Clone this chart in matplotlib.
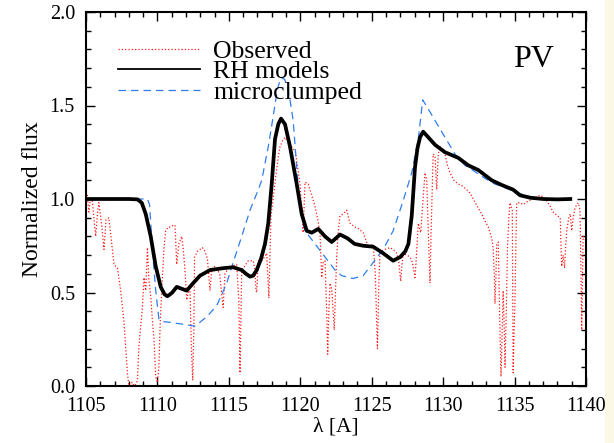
import matplotlib
matplotlib.use("Agg")
import matplotlib.pyplot as plt
from matplotlib.ticker import MultipleLocator, FormatStrFormatter
from matplotlib.patches import Rectangle

# Observed spectrum (wavelength in Angstrom, normalized flux)
obs_wave = [1105.0, 1105.09, 1105.2, 1105.3, 1105.44, 1105.55, 1105.68, 1105.8, 1105.9, 1106.0,
            1106.1, 1106.26, 1106.4, 1106.6, 1106.7, 1106.85, 1106.96, 1107.2, 1107.43, 1107.66,
            1107.9, 1108.0, 1108.12, 1108.24, 1108.36, 1108.5, 1108.6, 1108.7, 1108.95, 1109.06,
            1109.18, 1109.3, 1109.4, 1109.53, 1109.65, 1109.76, 1109.88, 1110.0, 1110.1, 1110.2,
            1110.34, 1110.46, 1110.58, 1110.75, 1110.93, 1111.1, 1111.23, 1111.35, 1111.5, 1111.7,
            1111.8, 1111.93, 1112.05, 1112.15, 1112.28, 1112.38, 1112.47, 1112.55, 1112.6, 1112.8,
            1112.98, 1113.15, 1113.33, 1113.5, 1113.68, 1113.8, 1113.95, 1114.15, 1114.35, 1114.6,
            1114.73, 1114.95, 1115.2, 1115.55, 1115.7, 1115.78, 1115.85, 1115.9, 1116.1, 1116.36,
            1116.7, 1116.83, 1116.9, 1116.95, 1117.06, 1117.3, 1117.5, 1117.65, 1117.8, 1117.88,
            1117.95, 1118.1, 1118.28, 1118.45, 1118.58, 1118.75, 1118.93, 1119.1, 1119.28, 1119.45,
            1119.63, 1119.8, 1119.98, 1120.1, 1120.2, 1120.26, 1120.33, 1120.56, 1120.8, 1121.03,
            1121.2, 1121.38, 1121.5, 1121.6, 1121.73, 1121.85, 1121.92, 1122.0, 1122.08, 1122.2,
            1122.38, 1122.46, 1122.55, 1122.65, 1122.78, 1123.0, 1123.25, 1123.48, 1123.83, 1124.1,
            1124.4, 1124.6, 1124.76, 1125.1, 1125.25, 1125.4, 1125.5, 1125.58, 1125.9, 1126.28,
            1126.5, 1126.75, 1126.9, 1127.03, 1127.12, 1127.2, 1127.45, 1127.68, 1127.85, 1128.03,
            1128.15, 1128.26, 1128.43, 1128.6, 1128.73, 1128.85, 1128.95, 1129.08, 1129.15, 1129.2,
            1129.3, 1129.43, 1129.55, 1129.66, 1129.78, 1129.95, 1130.13, 1130.3, 1130.48, 1130.75,
            1131.06, 1131.35, 1131.65, 1131.9, 1132.1, 1132.4, 1132.7, 1132.95, 1133.16, 1133.4,
            1133.5, 1133.58, 1133.63, 1133.7, 1133.75, 1133.86, 1133.95, 1134.05, 1134.12, 1134.2,
            1134.28, 1134.33, 1134.42, 1134.5, 1134.6, 1134.68, 1134.75, 1134.84, 1134.9, 1134.97,
            1135.03, 1135.1, 1135.15, 1135.38, 1135.6, 1135.8, 1135.96, 1136.3, 1136.55, 1136.78,
            1137.0, 1137.25, 1137.5, 1137.7, 1138.0, 1138.2, 1138.25, 1138.3, 1138.4, 1138.5,
            1138.58, 1138.65, 1138.8, 1138.9, 1139.0, 1139.1, 1139.23, 1139.35, 1139.46, 1139.58,
            1139.65, 1139.7, 1139.75, 1139.8, 1140.0]
obs_flux = [1.00, 1.02, 0.93, 1.00, 0.99, 0.90, 0.80, 0.92, 0.98, 0.92,
            0.86, 0.73, 0.89, 0.90, 0.83, 0.72, 0.65, 0.63, 0.51, 0.34,
            0.07, 0.00, 0.01, 0.02, 0.00, 0.01, 0.03, 0.21, 0.42, 0.58,
            0.51, 0.74, 0.57, 0.48, 0.35, 0.25, 0.05, 0.02, 0.10, 0.35,
            0.57, 0.74, 0.83, 0.85, 0.85, 0.86, 0.86, 0.65, 0.76, 0.80,
            0.74, 0.62, 0.46, 0.50, 0.51, 0.20, 0.03, 0.30, 0.69, 0.72,
            0.73, 0.74, 0.72, 0.68, 0.51, 0.62, 0.64, 0.63, 0.60, 0.42,
            0.60, 0.63, 0.64, 0.65, 0.45, 0.07, 0.40, 0.62, 0.64, 0.67,
            0.67, 0.62, 0.51, 0.50, 0.67, 0.67, 0.69, 0.71, 0.47, 0.70,
            0.91, 1.00, 1.12, 1.22, 1.28, 1.31, 1.33, 1.31, 1.30, 1.27,
            1.26, 1.18, 1.08, 0.95, 0.82, 0.95, 1.09, 1.08, 1.02, 0.96,
            0.90, 0.82, 0.58, 0.66, 0.67, 0.40, 0.17, 0.40, 0.55, 0.52,
            0.30, 0.50, 0.69, 0.82, 0.91, 0.92, 0.94, 0.87, 0.85, 0.84,
            0.82, 0.78, 0.74, 0.76, 0.60, 0.20, 0.55, 0.71, 0.73, 0.74,
            0.73, 0.71, 0.66, 0.56, 0.65, 0.71, 0.70, 0.69, 0.66, 0.58,
            0.72, 0.87, 0.82, 1.00, 1.14, 1.10, 0.85, 0.55, 0.80, 0.94,
            1.24, 1.23, 1.05, 1.24, 1.28, 1.27, 1.24, 1.18, 1.14, 1.10,
            1.08, 1.07, 1.05, 1.03, 1.00, 0.96, 0.92, 0.88, 0.85, 0.79,
            0.74, 0.60, 0.44, 0.60, 0.76, 0.77, 0.40, 0.05, 0.25, 0.51,
            0.30, 0.10, 0.40, 0.73, 0.90, 0.98, 0.96, 0.94, 0.07, 0.30,
            0.46, 0.80, 0.98, 0.98, 0.97, 0.98, 0.99, 1.00, 1.01, 1.02,
            1.01, 0.99, 0.96, 0.93, 0.91, 0.90, 0.75, 0.64, 0.70, 0.63,
            0.75, 0.83, 0.90, 0.92, 0.83, 0.90, 0.95, 0.97, 0.98, 0.94,
            0.60, 0.30, 0.55, 0.80, 0.78]

# RH model profile
rh_wave = [1105.0, 1106.0, 1107.0, 1108.0, 1108.6, 1108.9, 1109.18, 1109.53, 1109.88, 1110.23,
           1110.5, 1110.7, 1110.88, 1111.04, 1111.35, 1111.7, 1112.05, 1112.5, 1112.98, 1113.68,
           1114.6, 1115.3, 1115.9, 1116.2, 1116.48, 1116.7, 1116.95, 1117.25, 1117.53, 1117.76,
           1118.0, 1118.23, 1118.46, 1118.65, 1118.93, 1119.28, 1119.75, 1120.1, 1120.45, 1120.8,
           1121.26, 1121.73, 1122.2, 1122.78, 1123.3, 1123.8, 1124.4, 1125.1, 1125.8, 1126.5,
           1127.0, 1127.35, 1127.57, 1127.8, 1128.03, 1128.2, 1128.38, 1128.6, 1128.96, 1129.43,
           1130.13, 1131.06, 1131.76, 1132.46, 1133.4, 1134.1, 1134.9, 1135.38, 1136.08, 1137.0,
           1138.0, 1138.9]
rh_flux = [1.00, 1.00, 1.00, 1.00, 0.998, 0.98, 0.92, 0.80, 0.64, 0.53,
           0.49, 0.48, 0.49, 0.50, 0.53, 0.52, 0.51, 0.55, 0.59, 0.62,
           0.63, 0.635, 0.62, 0.60, 0.585, 0.59, 0.62, 0.68, 0.76, 0.87,
           1.08, 1.32, 1.40, 1.43, 1.40, 1.28, 1.08, 0.92, 0.83, 0.82,
           0.84, 0.80, 0.77, 0.81, 0.79, 0.76, 0.75, 0.745, 0.71, 0.67,
           0.69, 0.72, 0.76, 0.91, 1.17, 1.27, 1.33, 1.36, 1.33, 1.29,
           1.25, 1.22, 1.18, 1.155, 1.10, 1.075, 1.05, 1.02, 1.007, 1.00,
           0.998, 1.00]

# Microclumped model profile
mc_wave = [1105.0, 1106.0, 1107.0, 1108.0, 1109.0, 1109.3, 1109.45, 1109.64, 1109.88, 1110.1,
           1110.3, 1110.93, 1111.8, 1112.63, 1113.45, 1114.15, 1114.85, 1115.3, 1115.9, 1116.48,
           1117.06, 1117.3, 1117.76, 1118.1, 1118.28, 1118.45, 1118.65, 1118.9, 1119.1, 1119.28,
           1119.5, 1119.75, 1119.98, 1120.33, 1121.03, 1121.73, 1122.43, 1122.9, 1123.7, 1124.4,
           1125.1, 1125.8, 1126.5, 1127.2, 1127.8, 1128.26, 1128.57, 1128.97, 1129.43, 1130.13,
           1130.83, 1131.53, 1132.23, 1132.93, 1133.63, 1134.33, 1134.9, 1135.5, 1136.2, 1137.0,
           1138.0, 1138.9]
mc_flux = [1.00, 1.00, 1.00, 1.00, 1.00, 1.00, 0.97, 0.74, 0.51, 0.36,
           0.345, 0.34, 0.33, 0.32, 0.37, 0.43, 0.55, 0.66, 0.80, 0.94,
           1.05, 1.10, 1.28, 1.44, 1.53, 1.60, 1.65, 1.64, 1.60, 1.53,
           1.42, 1.17, 0.94, 0.83, 0.76, 0.69, 0.62, 0.59, 0.575, 0.59,
           0.66, 0.73, 0.83, 0.99, 1.14, 1.32, 1.53, 1.48, 1.42, 1.33,
           1.24, 1.18, 1.146, 1.11, 1.08, 1.06, 1.045, 1.025, 1.01, 1.00,
           0.998, 1.00]

series_labels = ["Observed", "RH models", "microclumped"]
x_ticks = [1105, 1110, 1115, 1120, 1125, 1130, 1135, 1140]
y_ticks = [0.0, 0.5, 1.0, 1.5, 2.0]

plt.rcParams["font.family"] = ["Liberation Serif", "DejaVu Serif"]

fig = plt.figure(figsize=(6.14, 4.43), dpi=100)
fig.patch.set_facecolor("white")
fig.add_artist(Rectangle((605 / 614, 0), 9 / 614, 1, transform=fig.transFigure,
                         facecolor="#fcf8e6", edgecolor="none", zorder=0))

ax = fig.add_axes([86 / 614, 57 / 443, 500 / 614, 374 / 443])

ax.plot(obs_wave, obs_flux, color="#ff1a1a", linestyle=":", linewidth=0.9,
        label=series_labels[0], zorder=2)
ax.plot(rh_wave, rh_flux, color="black", linestyle="-", linewidth=2.7,
        label=series_labels[1], zorder=4, solid_joinstyle="round")
ax.plot(mc_wave, mc_flux, color="#2f7df0", linestyle=(0, (6, 4)), linewidth=0.9,
        label=series_labels[2], zorder=3)

ax.set_xlim(1105, 1140)
ax.set_ylim(0.0, 2.0)
ax.set_xticks(x_ticks)
ax.set_yticks(y_ticks)
ax.xaxis.set_minor_locator(MultipleLocator(1))
ax.yaxis.set_minor_locator(MultipleLocator(0.1))
ax.yaxis.set_major_formatter(FormatStrFormatter("%.1f"))

ax.tick_params(which="both", direction="in", top=True, right=True, width=1.0,
               labelsize=14.5, colors="black")
ax.tick_params(which="major", length=6.5, pad=8)
ax.tick_params(which="minor", length=3.5)
for side in ax.spines.values():
    side.set_linewidth(1.5)

ax.set_xlabel("λ [A]", fontsize=15.5, labelpad=1)
ax.set_ylabel("Normalized flux", fontsize=17, labelpad=5)

ax.text(0.896, 0.873, "PV", transform=ax.transAxes, fontsize=23,
        ha="center", va="center")

leg = ax.legend(loc="upper left", bbox_to_anchor=(0.064, 0.926), frameon=False,
                fontsize=18.5, handlelength=3.2, handletextpad=0.5,
                labelspacing=-0.09, borderaxespad=0.0, borderpad=0.0)
leg.get_lines()[1].set_linewidth(1.3)

fig.savefig("out.png", dpi=100, facecolor=fig.get_facecolor())
